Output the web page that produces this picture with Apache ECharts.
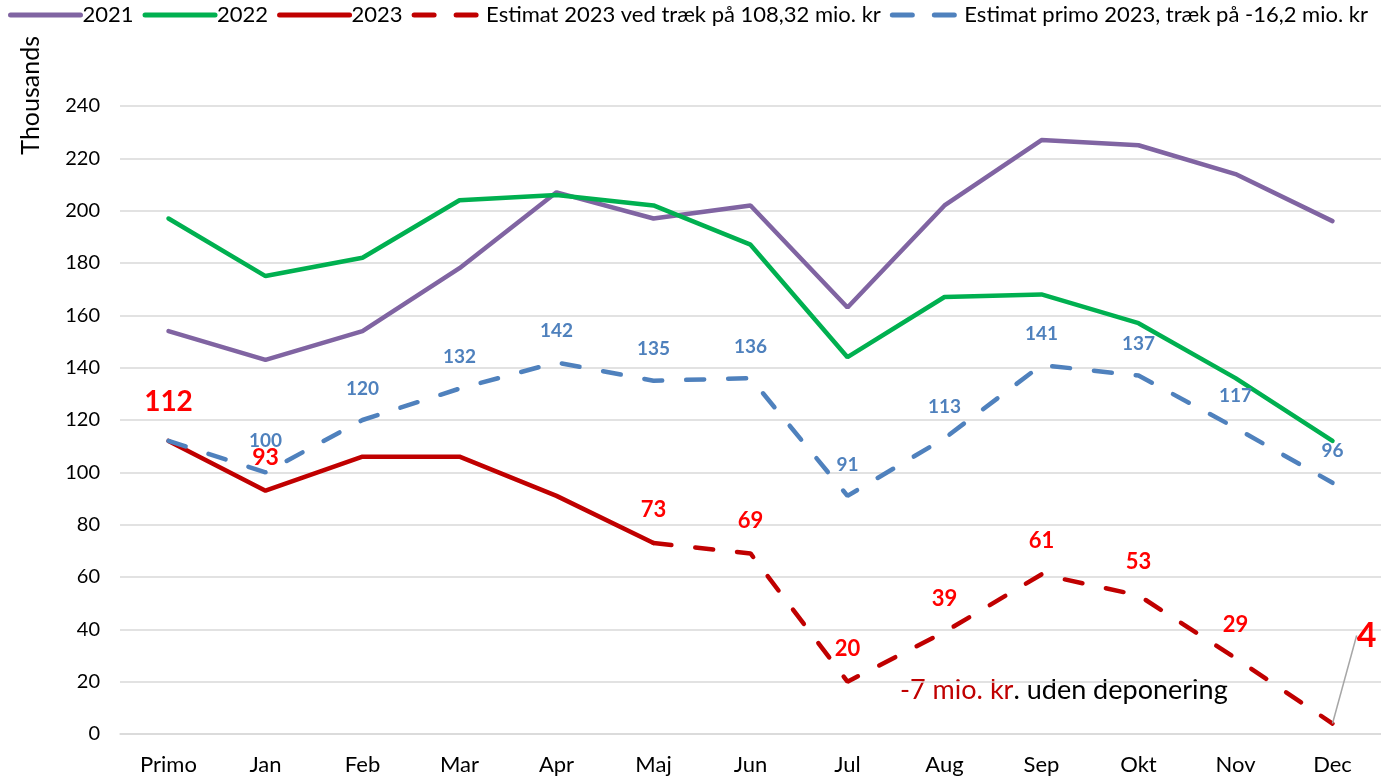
<!DOCTYPE html>
<html><head><meta charset="utf-8">
<script src="https://cdn.jsdelivr.net/npm/echarts@6/dist/echarts.min.js"></script>
<style>html,body{margin:0;padding:0;background:#fff}#c{width:1381px;height:778px}</style>
</head><body><div id="c"></div>
<script>
const categories = ['Primo','Jan','Feb','Mar','Apr','Maj','Jun','Jul','Aug','Sep','Okt','Nov','Dec'];
const s2021 = [154,143,154,178,207,197,202,163,202,227,225,214,196];
const s2022 = [197,175,182,204,206,202,187,144,167,168,157,136,112];
const s2023 = [112,93,106,106,91,73,null,null,null,null,null,null,null];
const est2023 = [null,null,null,null,null,73,69,20,39,61,53,29,4];
const estPrimo = [112,100,120,132,142,135,136,91,113,141,137,117,96];
const names = ['2021','2022','2023','Estimat 2023 ved træk på 108,32 mio. kr','Estimat primo 2023, træk på -16,2 mio. kr'];
const yTicks = {min:0, max:240, interval:20};
const s2023LabelIdx = [0,1];
const estPrimoLabelIdx = [1,2,3,4,5,6,7,8,9,10,11,12];

const FONT = 'Lato, "Open Sans", sans-serif';
const chart = echarts.init(document.getElementById('c'));
const dash = [18,24];
function redLbl(size){return {show:true,position:'top',distance:22,color:'#FF0000',fontWeight:'bold',fontSize:size,fontFamily:FONT,formatter:p=>Math.round(p.value)};}
chart.setOption({
  animation:false,
  textStyle:{fontFamily:FONT},
  legend:{top:4,left:8,right:0,padding:0,itemWidth:70,itemHeight:10,itemGap:9,
    itemStyle:{opacity:0},
    lineStyle:{width:5,cap:'round'},
    textStyle:{fontSize:22,color:'#000',fontFamily:FONT,padding:[0,0,0,-3]},
    data:names.map((n,i)=>i<3?{name:n}:{name:n,lineStyle:{type:[20,22],width:5,cap:'round'}})},
  grid:{left:120,right:0,top:106,bottom:44},
  xAxis:{type:'category',data:categories,boundaryGap:true,axisTick:{show:false},
    axisLine:{lineStyle:{color:'#d9d9d9',width:1.5}},
    axisLabel:{color:'#000',fontSize:22,margin:20,fontFamily:FONT}},
  yAxis:{type:'value',min:yTicks.min,max:yTicks.max,interval:yTicks.interval,
    axisLine:{show:false},axisTick:{show:false},
    axisLabel:{color:'#000',fontSize:20,margin:20,fontFamily:FONT},
    splitLine:{lineStyle:{color:'#d9d9d9',width:1.5}}},
  graphic:[
    {type:'text',left:18,top:36,rotation:Math.PI/2,style:{text:'Thousands',fontSize:25,fill:'#000',fontFamily:FONT}},
    {type:'text',left:900,top:677,style:{text:'{r|-7 mio. kr}{b|. uden deponering}',rich:{r:{fill:'#C00000',fontSize:27,fontFamily:FONT},b:{fill:'#000',fontSize:27,fontFamily:FONT}}}}
  ],
  series:[
    {name:names[0],type:'line',data:s2021,symbol:'circle',symbolSize:0,lineStyle:{color:'#8064A2',width:4.5,cap:'round'},itemStyle:{color:'#8064A2'}},
    {name:names[1],type:'line',data:s2022,symbol:'circle',symbolSize:0,lineStyle:{color:'#00B050',width:4.5,cap:'round'},itemStyle:{color:'#00B050'}},
    {name:names[2],type:'line',symbol:'circle',symbolSize:0,lineStyle:{color:'#C00000',width:4.5,cap:'round'},itemStyle:{color:'#C00000'},
      data:s2023.map((v,i)=>({value:v,label:s2023LabelIdx.includes(i)?(i===0?Object.assign(redLbl(28),{distance:25}):redLbl(23)):{show:false}}))},
    {name:names[3],type:'line',symbol:'circle',symbolSize:0,lineStyle:{color:'#C00000',width:4.5,type:dash,cap:'round'},itemStyle:{color:'#C00000'},
      data:est2023.map((v,i)=>(v==null?{value:null}:{value:v,label:i===12?Object.assign(redLbl(34),{distance:5}):redLbl(22),
        labelLine:{show:i===12,lineStyle:{color:'#a6a6a6',width:1.5}}})),
      labelLayout:function(p){ if(p.dataIndex===12) return {dx:34,dy:-66}; return {}; }},
    {name:names[4],type:'line',symbol:'circle',symbolSize:0,lineStyle:{color:'#4F81BD',width:4.5,type:dash,cap:'round'},itemStyle:{color:'#4F81BD'},
      data:estPrimo.map((v,i)=>({value:v,label:estPrimoLabelIdx.includes(i)?{show:true,position:'top',distance:22,color:'#4F81BD',fontWeight:'bold',fontSize:19,fontFamily:FONT}:{show:false}}))}
  ]
});
</script></body></html>
